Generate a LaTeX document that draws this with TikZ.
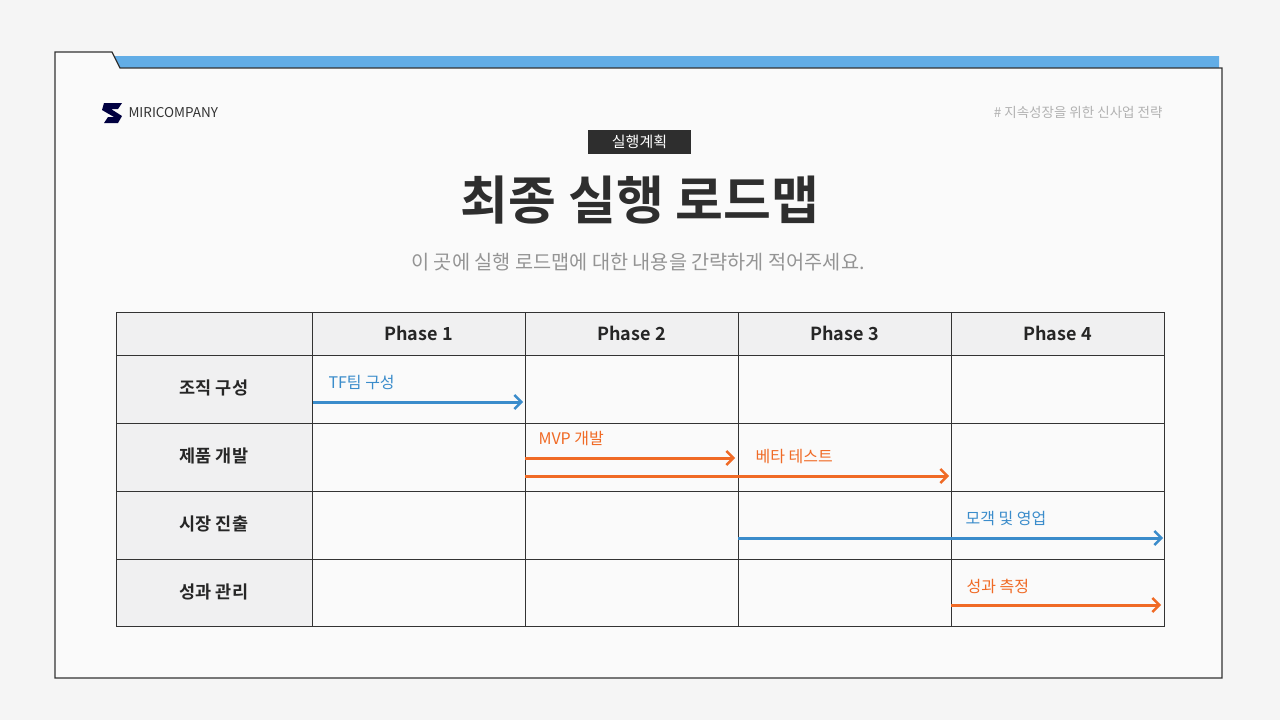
\documentclass[tikz,border=0pt]{standalone}
\usepackage{fontspec}
\setmainfont{Noto Sans CJK KR}
\newfontfamily\kr{Noto Sans CJK KR}
\newfontfamily\krb{Noto Sans CJK KR Bold}
\usetikzlibrary{arrows.meta}
\definecolor{bl}{HTML}{3A8CCB}
\definecolor{orr}{HTML}{F06A25}
\definecolor{hdr}{HTML}{F0F0F1}
\definecolor{bar}{HTML}{62ADE6}
\tikzset{x=1pt,y=-1pt,
 arr/.style={line width=3pt,-{Straight Barb[length=7pt,width=14pt,line width=2.4pt]}},
 lbl/.style={anchor=west,font=\kr\fontsize{16}{18}\selectfont},
 rowh/.style={font=\krb\fontsize{17.5}{20}\selectfont,text=black!85},
 colh/.style={font=\krb\fontsize{18}{20}\selectfont,text=black!85}}
\begin{document}
\begin{tikzpicture}
\fill[black!4] (0,0) rectangle (1280,720);
\useasboundingbox (0,0) rectangle (1280,720);
\fill[bar] (113,56) -- (1219,56) -- (1219,68) -- (119,68) -- cycle;
\filldraw[fill=black!2,draw=black!80,line width=1.3pt] (55,52) -- (112,52) -- (120,68) -- (1222,68) -- (1222,678) -- (55,678) -- cycle;
% logo
\fill[black!75!blue] (104,103) -- (122,103) -- (118,109) -- (111,109) -- (122,116) -- (118,123) -- (104,123) -- (108,117) -- (114,117) -- (102,110) -- cycle;
\node[anchor=west,font=\kr\fontsize{13.5}{15}\selectfont,text=black!80] (logo) at (125,113) {MIRICOMPANY};
\node[anchor=east,font=\kr\fontsize{13.5}{15}\selectfont,text=black!30] (tag) at (1166,112) {\# 지속성장을 위한 신사업 전략};
\node[fill=black!82,text=white,minimum width=103pt,minimum height=24pt,font=\kr\fontsize{15}{17}\selectfont] (badge) at (639.5,142) {실행계획};
\node[font=\krb\fontsize{52}{60}\selectfont,text=black!82] (title) at (640,200) {최종 실행 로드맵};
\node[font=\kr\fontsize{19.7}{22}\selectfont,text=black!42] (sub) at (638,262) {이 곳에 실행 로드맵에 대한 내용을 간략하게 적어주세요.};
% table
\fill[hdr] (116,312) rectangle (1164,355);
\fill[hdr] (116,312) rectangle (312,626);
\draw[black!80,line width=1pt] (116,312) rectangle (1164,626);
\foreach \x in {312,525,738,951} \draw[black!80,line width=1pt] (\x,312) -- (\x,626);
\foreach \y in {355,423,491,559} \draw[black!80,line width=1pt] (116,\y) -- (1164,\y);
\node[colh] (p1) at (418.5,333) {Phase 1};
\node[colh] (p2) at (631.5,333) {Phase 2};
\node[colh] (p3) at (844.5,333) {Phase 3};
\node[colh] (p4) at (1057.5,333) {Phase 4};
\node[rowh] (r1) at (214,388) {조직 구성};
\node[rowh] (r2) at (214,456) {제품 개발};
\node[rowh] (r3) at (214,524) {시장 진출};
\node[rowh] (r4) at (214,592) {성과 관리};
\coordinate (a1) at (313,402); \coordinate (b1) at (523,402);
\coordinate (a2) at (525,458); \coordinate (b2) at (735,458);
\coordinate (a3) at (525,476); \coordinate (b3) at (949,476);
\coordinate (a4) at (738,538); \coordinate (b4) at (1163,538);
\coordinate (a5) at (951,605); \coordinate (b5) at (1161,605);
\draw[arr,bl] (a1) -- (b1);
\draw[arr,orr] (a2) -- (b2);
\draw[arr,orr] (a3) -- (b3);
\draw[arr,bl] (a4) -- (b4);
\draw[arr,orr] (a5) -- (b5);
\node[lbl,text=bl] (l1) at (325,383) {TF팀 구성};
\node[lbl,text=orr] (l2) at (535,439) {MVP 개발};
\node[lbl,text=orr] (l3) at (752,457) {베타 테스트};
\node[lbl,text=bl] (l4) at (962,519) {모객 및 영업};
\node[lbl,text=orr] (l5) at (963,586) {성과 측정};
\end{tikzpicture}
\end{document}
